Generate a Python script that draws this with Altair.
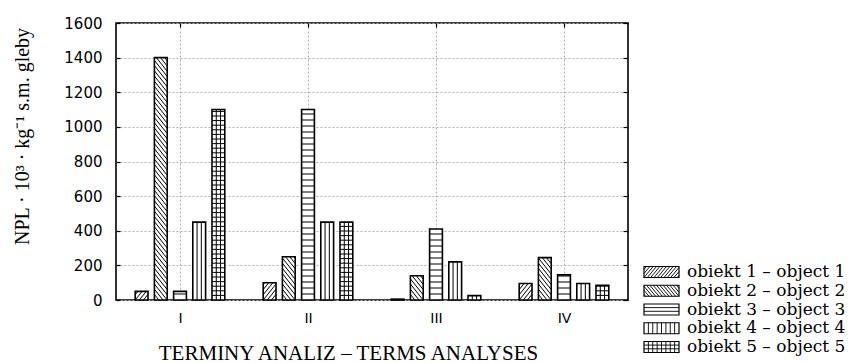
import json
import altair as alt
import pandas as pd

# ---------------- data ----------------
terms = ["I", "II", "III", "IV"]
objects = [
    "obiekt 1 – object 1",
    "obiekt 2 – object 2",
    "obiekt 3 – object 3",
    "obiekt 4 – object 4",
    "obiekt 5 – object 5",
]
obj1 = [50, 100, 5, 95]
obj2 = [1400, 250, 140, 245]
obj3 = [50, 1100, 410, 145]
obj4 = [450, 450, 220, 95]
obj5 = [1100, 450, 25, 85]
series = [obj1, obj2, obj3, obj4, obj5]
y_ticks = [0, 200, 400, 600, 800, 1000, 1200, 1400, 1600]
x_title = "TERMINY ANALIZ – TERMS ANALYSES"
y_title = "NPL · 10³ · kg⁻¹ s.m. gleby"

# ---------------- layout / style ----------------
W, H = 512, 277
Y_MAX = 1600
PX = W / len(terms)          # px per x unit
PY = H / Y_MAX               # px per y unit
STEP, BW = 0.15, 0.10        # bar pitch / width inside a group (x units)

rows = []
for oi, (name, vals) in enumerate(zip(objects, series)):
    for ti, (t, v) in enumerate(zip(terms, vals)):
        rows.append({"term": t, "ti": ti, "obj": name, "oi": oi, "value": v})
df = pd.DataFrame(rows)
leg = pd.DataFrame({"obj": objects, "oi": list(range(len(objects)))})

xs = alt.Scale(domain=[0, len(terms)], nice=False, zero=False)
ys = alt.Scale(domain=[0, Y_MAX], nice=False, zero=False)
centers = [i + 0.5 for i in range(len(terms))]
label_expr = f"{json.dumps(terms)}[floor(datum.value)]"


def patterns(base, px, py, xsc, ysc, p):
    X = lambda f: alt.X(f"{f}:Q", scale=xsc, axis=None)
    Y = lambda f: alt.Y(f"{f}:Q", scale=ysc, axis=None)
    rule = dict(color="black", strokeWidth=p["lw"])
    m, d = p["m"], p["dd"]
    diag = (
        base.transform_filter("datum.oi <= 1")
        .transform_calculate(ks=f"sequence(floor(-{m} * datum.Wpx / {d}) - 1, ceil(datum.Hpx / {d}) + 2)")
        .transform_flatten(["ks"])
        .transform_calculate(c=f"datum.ks * {d}")
        .transform_calculate(us=f"max(0, -datum.c / {m})")
        .transform_calculate(ue=f"min(datum.Wpx, (datum.Hpx - datum.c) / {m})")
        .transform_filter("datum.ue - datum.us > 0.3")
        .transform_calculate(
            xa=f"datum.xl + (datum.oi == 0 ? datum.us : datum.Wpx - datum.us) / {px}",
            xb=f"datum.xl + (datum.oi == 0 ? datum.ue : datum.Wpx - datum.ue) / {px}",
            ya=f"datum.yb + ({m} * datum.us + datum.c) / {py}",
            yb2=f"datum.yb + ({m} * datum.ue + datum.c) / {py}",
        )
        .mark_rule(**rule)
        .encode(x=X("xa"), x2="xb:Q", y=Y("ya"), y2="yb2:Q")
    )
    hz = (
        base.transform_filter("datum.oi == 2 || datum.oi == 4")
        .transform_calculate(dh=f"datum.oi == 2 ? {p['h3']} : {p['h5']}")
        .transform_calculate(ks="sequence(1, ceil(datum.Hpx / datum.dh) + 1)")
        .transform_flatten(["ks"])
        .transform_calculate(hh="datum.ks * datum.dh")
        .transform_filter("datum.hh < datum.Hpx - 0.8")
        .transform_calculate(
            yh=f"datum.yb + datum.hh / {py}",
            xe=f"datum.xl + datum.Wpx / {px}",
        )
        .mark_rule(**rule)
        .encode(x=X("xl"), x2="xe:Q", y=Y("yh"))
    )
    vt = (
        base.transform_filter("datum.oi >= 3")
        .transform_calculate(nv=f"max(2, round(datum.Wpx / {p['v']}))")
        .transform_calculate(ks="sequence(1, datum.nv)")
        .transform_flatten(["ks"])
        .transform_calculate(
            xv=f"datum.xl + datum.ks * datum.Wpx / datum.nv / {px}",
            ytop=f"datum.yb + datum.Hpx / {py}",
        )
        .mark_rule(**rule)
        .encode(x=X("xv"), y=Y("yb"), y2="ytop:Q")
    )
    return [diag, hz, vt]


# ---------------- main bars ----------------
main_base = (
    alt.Chart(df)
    .transform_calculate(xl=f"datum.ti + 0.5 + (datum.oi - 2) * {STEP} - {BW / 2}")
    .transform_calculate(
        xr=f"datum.xl + {BW}",
        yb="0",
        Wpx=f"{BW * PX}",
        Hpx=f"datum.value * {PY}",
    )
)

grid_style = dict(grid=True, gridDash=[2, 2], gridColor="#b0b0b0", gridWidth=1)

x_bottom = alt.Axis(
    values=centers, labelExpr=label_expr, ticks=False, tickSize=0, domain=False,
    labelFont="DejaVu Sans", labelFontSize=14, labelColor="black", labelPadding=11,
    title=x_title, titleFont="Liberation Serif", titleFontSize=21, titleFontWeight="normal",
    titleColor="black", titleX=232, titleY=42, titleBaseline="top", titleAlign="center",
    **grid_style,
)
y_left = alt.Axis(
    values=y_ticks, format="d", domain=False, offset=-4, tickSize=4, tickColor="black", tickWidth=1.2,
    labelFont="DejaVu Sans", labelFontSize=15, labelColor="black", labelPadding=14,
    title=y_title, titleFont="Liberation Serif", titleFontSize=20, titleFontWeight="normal",
    titleColor="black", titleX=-98, titleY=113, titleBaseline="middle", titleAlign="center",
    **grid_style,
)
x_top = alt.Axis(
    orient="top", values=centers, labels=False, domain=False, grid=False,
    tickSize=4, offset=-4, tickColor="black", tickWidth=1.2, title=None,
)
y_right = alt.Axis(
    orient="right", values=y_ticks, labels=False, domain=False, grid=False,
    tickSize=5, offset=-5, tickColor="black", tickWidth=1.2, title=None,
)

fill_layer = main_base.mark_rect(color="white", strokeWidth=0).encode(
    x=alt.X("xl:Q", scale=xs, axis=x_bottom),
    x2="xr:Q",
    y=alt.Y("value:Q", scale=ys, axis=y_left),
    y2="yb:Q",
)
outline_layer = main_base.mark_rect(
    fill="white", fillOpacity=0, stroke="black", strokeWidth=1.6
).encode(
    x=alt.X("xl:Q", scale=xs, axis=x_top),
    x2="xr:Q",
    y=alt.Y("value:Q", scale=ys, axis=y_right),
    y2="yb:Q",
)
pm = dict(m=1.25, dd=5.2, h3=6.0, h5=4.6, v=4.3, lw=1.0)
main = alt.layer(
    fill_layer, *patterns(main_base, PX, PY, xs, ys, pm), outline_layer
).resolve_axis(x="independent", y="independent")

# ---------------- legend ----------------
LEG_W, LEG_H = 35, 11
LEG_Y0, LEG_ROW = 74.5, 18.75
LEG_TX = 43
xsl = alt.Scale(domain=[0, 200], range=[528, 728], nice=False, zero=False)
ysl = alt.Scale(domain=[0, 100], range=[329, 229], nice=False, zero=False)

leg_base = (
    alt.Chart(leg)
    .transform_calculate(
        xl="0", Wpx=f"{LEG_W}", Hpx=f"{LEG_H}", yb=f"{LEG_Y0} - datum.oi * {LEG_ROW}"
    )
    .transform_calculate(
        xr="datum.xl + datum.Wpx",
        yt="datum.yb + datum.Hpx",
        tx=f"{LEG_TX}",
        ty="datum.yb + datum.Hpx / 2",
    )
)
leg_fill = leg_base.mark_rect(color="white", strokeWidth=0).encode(
    x=alt.X("xl:Q", scale=xsl, axis=None), x2="xr:Q",
    y=alt.Y("yb:Q", scale=ysl, axis=None), y2="yt:Q",
)
leg_out = leg_base.mark_rect(fill="white", fillOpacity=0, stroke="black", strokeWidth=1.2).encode(
    x=alt.X("xl:Q", scale=xsl, axis=None), x2="xr:Q",
    y=alt.Y("yb:Q", scale=ysl, axis=None), y2="yt:Q",
)
leg_text = leg_base.mark_text(
    align="left", baseline="middle", font="DejaVu Serif", fontSize=17, color="black"
).encode(
    x=alt.X("tx:Q", scale=xsl, axis=None),
    y=alt.Y("ty:Q", scale=ysl, axis=None),
    text="obj:N",
)
pl = dict(m=1.2, dd=4.0, h3=3.7, h5=3.7, v=4.4, lw=0.9)
legend = alt.layer(leg_fill, *patterns(leg_base, 1, 1, xsl, ysl, pl), leg_out, leg_text)

chart = (
    alt.layer(main, legend)
    .resolve_scale(x="independent", y="independent")
    .properties(
        width=W,
        height=H,
        padding={"left": 116, "top": 23, "right": 848 - 116 - W, "bottom": 363 - 23 - H},
        autosize=alt.AutoSizeParams(type="none"),
        background="white",
    )
    .configure_view(stroke="black", strokeWidth=1.6)
)

chart.save("out.html", embed_options={"renderer": "svg", "actions": False})
